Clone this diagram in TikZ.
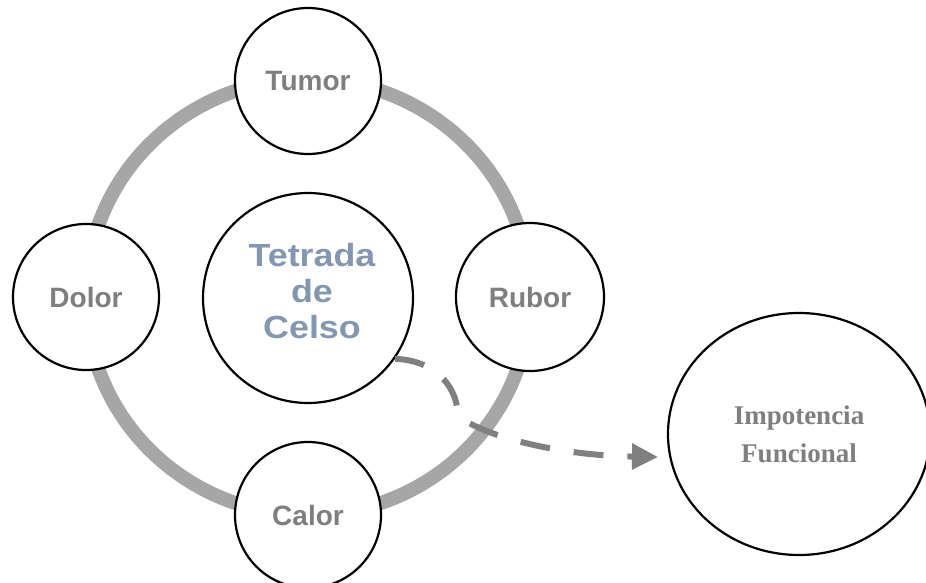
\documentclass[tikz,border=0pt]{standalone}
\usepackage{fontspec}
\setmainfont{Liberation Serif}
\newfontfamily\labelsans{Liberation Sans}
\usetikzlibrary{arrows.meta,shapes.geometric}
\definecolor{ringgray}{HTML}{A6A6A6}
\definecolor{labelgray}{HTML}{7F7F7F}
\definecolor{arrowgray}{HTML}{808080}
\definecolor{slateblue}{HTML}{8497B0}
\begin{document}
\begin{tikzpicture}[x=1pt,y=-1pt,
  sign/.style={circle, draw=black, line width=2.2pt, fill=white, inner sep=0pt,
    minimum size=146pt, text=labelgray,
    font=\labelsans\bfseries\fontsize{28}{30}\selectfont},
  hub/.style={circle, draw=black, line width=2.2pt, fill=white, inner sep=0pt,
    minimum size=210pt},
  hubtext/.style={align=center, text=slateblue, inner sep=0pt,
    font=\labelsans\bfseries\fontsize{32}{36}\selectfont},
  outcome/.style={ellipse, draw=black, line width=2.2pt, fill=white, inner sep=0pt,
    minimum width=262pt, minimum height=242pt, align=center, text=labelgray,
    font=\bfseries\fontsize{27}{38}\selectfont},
  flow/.style={arrowgray, line width=6pt, dash pattern=on 30pt off 24pt,
    -{Triangle[length=26pt,width=25pt]}}]
\useasboundingbox (0,0) rectangle (926,583);

% the ring linking the four signs
\draw[ringgray, line width=14pt] (308,297) ellipse [x radius=222pt, y radius=218pt];

% the four cardinal signs
\node[sign] (tumor) at (308,81) {Tumor};
\node[sign] (dolor) at (86,297) {Dolor};
\node[sign, minimum size=148pt] (rubor) at (530,297) {Rubor};
\node[sign] (calor) at (308,515) {Calor};

% centre
\node[hub] (centre) at (308,298) {};
\node[hubtext] (tetrada) at (312,291)
  {\scalebox{1.12}[1]{Tetrada}\\\scalebox{1.12}[1]{de}\\\scalebox{1.12}[1]{Celso}};

% the fifth sign
\node[outcome] (impotencia) at (799,434) {Impotencia\\Funcional};

% dashed link from the centre to the fifth sign
\coordinate (tip) at (658,457);
\draw[flow] (centre.-35) .. controls (432,360) and (456,383) .. (458,414)
  .. controls (466,428) and (540,455) .. (tip);
\end{tikzpicture}
\end{document}
